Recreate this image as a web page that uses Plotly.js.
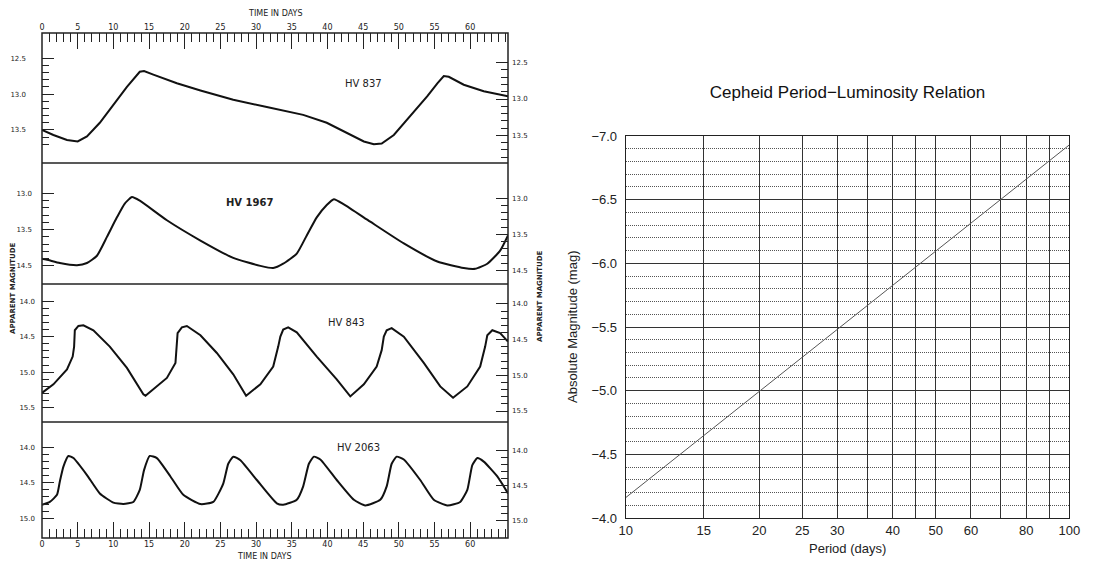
<!DOCTYPE html>
<html>
<head>
<meta charset="utf-8">
<script src="https://cdn.plot.ly/plotly-3.0.1.min.js"></script>
<style>html,body{margin:0;padding:0;background:#fff;}#chart{width:1105px;height:561px;}</style>
</head>
<body>
<div id="chart"></div>
<script>
// ---- Light curves (time in days, apparent magnitude) ----
const hv837Days = [0, 1.6, 3.5, 5.0, 6.3, 8.1, 10.0, 11.9, 13.7, 14.3, 15.6, 18.9, 22.2, 26.8, 31.5, 36.6, 39.9, 42.7, 45.1, 46.5, 47.6, 49.3, 51.6, 54.0, 55.4, 56.3, 57.0, 59.1, 61.9, 65.3];
const hv837Mag  = [13.50, 13.57, 13.64, 13.66, 13.59, 13.40, 13.15, 12.90, 12.69, 12.68, 12.73, 12.85, 12.95, 13.08, 13.18, 13.29, 13.40, 13.54, 13.66, 13.70, 13.69, 13.57, 13.31, 13.03, 12.85, 12.75, 12.76, 12.87, 12.96, 13.03];

const hv1967Days = [0, 0.9, 2.5, 4.9, 6.3, 7.7, 9.1, 10.5, 11.6, 12.6, 13.7, 17.5, 22.2, 26.8, 30.6, 32.4, 33.8, 35.7, 37.1, 38.5, 39.9, 40.9, 42.3, 46.0, 50.7, 55.4, 59.1, 60.7, 62.4, 64.2, 65.3];
const hv1967Mag  = [13.90, 13.92, 13.96, 13.99, 13.96, 13.86, 13.60, 13.33, 13.14, 13.05, 13.10, 13.37, 13.65, 13.89, 14.00, 14.03, 13.97, 13.83, 13.58, 13.33, 13.16, 13.08, 13.15, 13.39, 13.69, 13.94, 14.03, 14.04, 13.97, 13.79, 13.58];

const hv843Days = [0, 1.6, 3.5, 4.3, 4.5, 4.6, 5.1, 5.8, 7.2, 9.5, 11.9, 14.2, 14.5, 15.6, 17.5, 18.7, 18.9, 19.0, 19.6, 20.3, 22.2, 24.5, 26.8, 28.6, 30.6, 32.4, 33.1, 33.4, 33.8, 34.5, 35.7, 38.5, 41.3, 43.2, 45.1, 46.9, 47.6, 47.9, 48.3, 49.0, 50.7, 53.5, 55.8, 57.6, 59.6, 61.4, 62.1, 62.4, 63.1, 64.2, 65.3];
const hv843Mag  = [15.29, 15.17, 14.96, 14.78, 14.64, 14.41, 14.35, 14.34, 14.41, 14.64, 14.94, 15.31, 15.33, 15.24, 15.08, 14.87, 14.64, 14.45, 14.37, 14.35, 14.48, 14.73, 15.03, 15.33, 15.17, 14.92, 14.64, 14.50, 14.40, 14.37, 14.44, 14.78, 15.10, 15.34, 15.17, 14.92, 14.69, 14.50, 14.41, 14.38, 14.50, 14.87, 15.20, 15.36, 15.20, 14.92, 14.64, 14.48, 14.41, 14.45, 14.57];

const hv2063Days = [0, 1.1, 2.1, 2.5, 3.0, 3.7, 4.4, 6.3, 8.1, 10.0, 11.4, 12.8, 13.7, 14.3, 15.1, 16.1, 18.0, 19.8, 22.2, 24.0, 25.4, 26.1, 26.8, 27.8, 30.1, 32.9, 33.8, 35.7, 36.6, 37.4, 38.1, 39.0, 41.3, 43.7, 45.3, 47.4, 48.3, 49.0, 49.7, 50.7, 53.0, 54.9, 56.8, 58.6, 59.6, 60.3, 61.0, 61.9, 63.8, 65.3];
const hv2063Mag  = [14.81, 14.77, 14.67, 14.48, 14.27, 14.12, 14.15, 14.39, 14.65, 14.78, 14.80, 14.77, 14.60, 14.32, 14.12, 14.15, 14.41, 14.67, 14.80, 14.77, 14.51, 14.23, 14.13, 14.18, 14.46, 14.79, 14.81, 14.74, 14.55, 14.23, 14.13, 14.17, 14.46, 14.74, 14.82, 14.74, 14.55, 14.23, 14.13, 14.17, 14.46, 14.74, 14.82, 14.77, 14.60, 14.25, 14.15, 14.20, 14.41, 14.65];

const starNames = ["HV 837", "HV 1967", "HV 843", "HV 2063"];

// time-axis labelled ticks
const dayTickVals = [0, 5, 10, 15, 20, 25, 30, 35, 40, 45, 50, 55, 60];

// magnitude tick values / labels per panel (labels as printed in the original)
const hv837TickVals = [12.5, 13.0, 13.5];
const hv837TickText = ["12.5", "13.0", "13.5"];
const hv837Minor = [12.6, 12.7, 12.8, 12.9, 13.1, 13.2, 13.3, 13.4, 13.6, 13.7];
const hv837MinorRight = [12.6, 12.7, 12.8, 12.9, 13.1, 13.2, 13.3, 13.4, 13.6, 13.7, 13.8];
const hv1967TickVals = [13.0, 13.5, 14.0];
const hv1967TickText = ["13.0", "13.5", "14.5"];
const hv1967Minor = [13.1, 13.2, 13.3, 13.4, 13.6, 13.7, 13.8, 13.9];
const hv843TickVals = [14.0, 14.5, 15.0, 15.5];
const hv843TickText = ["14.0", "14.5", "15.0", "15.5"];
const hv843Minor = [14.1, 14.2, 14.3, 14.4, 14.6, 14.7, 14.8, 14.9, 15.1, 15.2, 15.3, 15.4];
const hv2063TickVals = [14.0, 14.5, 15.0];
const hv2063TickText = ["14.0", "14.5", "15.0"];
const hv2063Minor = [14.1, 14.2, 14.3, 14.4, 14.6, 14.7, 14.8, 14.9];

// ---- Period-luminosity relation ----
const plPeriod = [10, 100];
const plAbsMag = [-4.16, -6.93];
const periodTickVals = [10, 15, 20, 25, 30, 35, 40, 45, 50, 60, 70, 80, 90, 100];
const periodTickText = ["10", "15", "20", "25", "30", "", "40", "", "50", "60", "", "80", "", "100"];

// ---- geometry helpers (pixels -> paper) ----
const W = 1105, H = 561;
const PX = x => x / W;
const PY = y => 1 - y / H;
const L = 42, R = 508;

const curveLine = {color: '#111', width: 2};
const traces = [
  {x: hv837Days, y: hv837Mag, xaxis: 'x2', yaxis: 'y', mode: 'lines', line: curveLine, hoverinfo: 'skip'},
  {x: hv1967Days, y: hv1967Mag, xaxis: 'x', yaxis: 'y2', mode: 'lines', line: Object.assign({shape: 'spline', smoothing: 0.5}, curveLine), hoverinfo: 'skip'},
  {x: hv843Days, y: hv843Mag, xaxis: 'x', yaxis: 'y3', mode: 'lines', line: curveLine, hoverinfo: 'skip'},
  {x: hv2063Days, y: hv2063Mag, xaxis: 'x', yaxis: 'y4', mode: 'lines', line: Object.assign({shape: 'spline', smoothing: 0.5}, curveLine), hoverinfo: 'skip'},
  // empty traces to bind the right-hand magnitude axes
  {x: [], y: [], xaxis: 'x2', yaxis: 'y5', mode: 'lines', hoverinfo: 'skip'},
  {x: [], y: [], xaxis: 'x', yaxis: 'y7', mode: 'lines', hoverinfo: 'skip'},
  {x: [], y: [], xaxis: 'x', yaxis: 'y8', mode: 'lines', hoverinfo: 'skip'},
  {x: [], y: [], xaxis: 'x', yaxis: 'y9', mode: 'lines', hoverinfo: 'skip'},
  {x: plPeriod, y: plAbsMag, xaxis: 'x3', yaxis: 'y6', mode: 'lines', line: {color: '#555', width: 1}, hoverinfo: 'skip'}
];

const smallFont = {family: 'DejaVu Sans', size: 8, color: '#222'};
const magFont = {family: 'DejaVu Sans', size: 7, color: '#222'};
function timeAxis(anchor, side) {
  return {
    domain: [PX(L), PX(R)], range: [0, 65.3], anchor: anchor, side: side,
    tickmode: 'array', tickvals: dayTickVals, ticks: 'inside', ticklen: 16, tickwidth: 1, tickcolor: '#222',
    minor: {tickmode: 'linear', ticks: 'inside', ticklen: 9, dtick: 1, tick0: 0, tickwidth: 1, tickcolor: '#222'},
    showgrid: false, zeroline: false, showline: false, tickfont: smallFont, fixedrange: true
  };
}
function magAxis(top, bottom, range, vals, text, minor, anchor, side, overlay, standoff) {
  const ax = {
    domain: [PY(bottom), PY(top)], range: range, anchor: anchor, side: side,
    tickmode: 'array', tickvals: vals, ticktext: text,
    ticks: 'inside', ticklen: 12, tickwidth: 1, tickcolor: '#222',
    minor: {tickmode: 'array', tickvals: minor, ticks: 'inside', ticklen: 7, tickwidth: 1, tickcolor: '#222'},
    showgrid: false, zeroline: false, showline: false, tickfont: magFont, fixedrange: true,
    ticklabelstandoff: standoff
  };
  if (overlay) ax.overlaying = overlay;
  return ax;
}

const shapes = [
  {type: 'rect', xref: 'paper', yref: 'paper', x0: PX(L), x1: PX(R), y0: PY(538), y1: PY(33), line: {color: '#222', width: 1.5}}
];
[163, 284, 422].forEach(y => shapes.push({type: 'line', xref: 'paper', yref: 'paper', x0: PX(L), x1: PX(R), y0: PY(y), y1: PY(y), line: {color: '#222', width: 1.5}}));

function note(text, x, y, font, angle) {
  const a = {text: text, x: PX(x), y: PY(y), xref: 'paper', yref: 'paper', xanchor: 'center', yanchor: 'middle', showarrow: false, font: font};
  if (angle !== undefined) a.textangle = angle;
  return a;
}
const labelFont = {family: 'DejaVu Sans', size: 10, color: '#222'};
const sideFont = {family: 'DejaVu Sans', size: 7, color: '#222'};
const plFont = {family: 'Liberation Sans', size: 13, color: '#222'};
const annotations = [
  note('TIME IN DAYS', 275, 13, smallFont),
  note('TIME IN DAYS', 264, 556, smallFont),
  note('<b>APPARENT MAGNITUDE</b>', 13, 288, sideFont, -90),
  note('<b>APPARENT MAGNITUDE</b>', 540, 296, sideFont, -90),
  note(starNames[0], 363, 83, labelFont),
  note('<b>' + starNames[1] + '</b>', 249, 203, labelFont),
  note(starNames[2], 346, 322, labelFont),
  note(starNames[3], 358, 447, labelFont),
  note('Period (days)', 847, 548, plFont),
  note('Absolute Magnitude (mag)', 572, 327, plFont, -90)
];

const layout = {
  width: W, height: H, margin: {l: 0, r: 0, t: 0, b: 0}, showlegend: false,
  paper_bgcolor: '#fff', plot_bgcolor: 'rgba(0,0,0,0)',
  title: {text: 'Cepheid Period\u2212Luminosity Relation', x: PX(847.5), xref: 'paper', xanchor: 'center', y: PY(92), yref: 'paper', yanchor: 'middle', font: {family: 'Liberation Sans', size: 17, color: '#111'}},
  xaxis: timeAxis('y4', 'bottom'),
  xaxis2: Object.assign(timeAxis('y', 'top'), {matches: 'x'}),
  yaxis: magAxis(33, 163, [13.96, 12.15], hv837TickVals, hv837TickText, hv837Minor, 'x2', 'left', null, 15),
  yaxis5: magAxis(33, 163, [13.879, 12.093], hv837TickVals, hv837TickText, hv837MinorRight, 'x2', 'right', 'y', 3),
  yaxis2: magAxis(163, 284, [14.25, 12.58], hv1967TickVals, hv1967TickText, hv1967Minor, 'x', 'left', null, 9),
  yaxis7: magAxis(163, 284, [14.19, 12.51], hv1967TickVals, hv1967TickText, hv1967Minor, 'x', 'right', 'y2', 3),
  yaxis3: magAxis(284, 422, [15.70, 13.76], hv843TickVals, hv843TickText, hv843Minor, 'x', 'left', null, 6),
  yaxis8: magAxis(284, 422, [15.654, 13.72], hv843TickVals, hv843TickText, hv843Minor, 'x', 'right', 'y3', 3),
  yaxis4: magAxis(422, 538, [15.28, 13.64], hv2063TickVals, hv2063TickText, hv2063Minor, 'x', 'left', null, 6),
  yaxis9: magAxis(422, 538, [15.242, 13.592], hv2063TickVals, hv2063TickText, hv2063Minor, 'x', 'right', 'y4', 3),
  xaxis3: {
    type: 'log', domain: [PX(625.7), PX(1069.3)], range: [1, 2], anchor: 'y6',
    tickmode: 'array', tickvals: periodTickVals, ticktext: periodTickText,
    showgrid: true, gridcolor: '#333', gridwidth: 1, ticks: '', showline: true, mirror: true,
    linecolor: '#222', linewidth: 1, zeroline: false, tickfont: plFont, fixedrange: true
  },
  yaxis6: {
    domain: [PY(518), PY(136)], range: [-4, -7], anchor: 'x3',
    tickmode: 'linear', tick0: -7, dtick: 0.5, tickformat: '.1f',
    showgrid: true, gridcolor: '#333', gridwidth: 1, ticks: '', showline: true, mirror: true,
    linecolor: '#222', linewidth: 1, zeroline: false, tickfont: plFont, fixedrange: true,
    ticklabelstandoff: 5,
    minor: {tickmode: 'linear', tick0: -7, dtick: 0.1, showgrid: true, griddash: '1px,1px', gridcolor: '#555', gridwidth: 1}
  },
  shapes: shapes,
  annotations: annotations
};

Plotly.newPlot('chart', traces, layout, {staticPlot: true, displayModeBar: false});
</script>
</body>
</html>
